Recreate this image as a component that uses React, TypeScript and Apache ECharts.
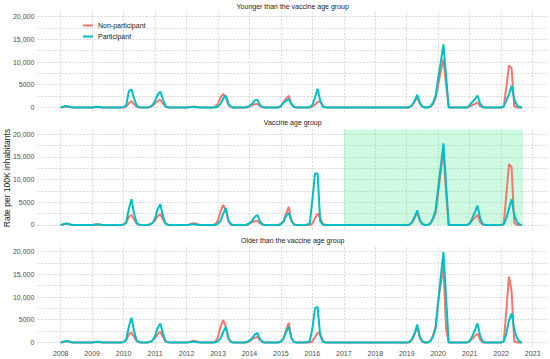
import React, { useEffect, useRef } from "react";
import * as echarts from "echarts";

// ---- Data (monthly rates per 100K, Jan 2008 .. Sep 2022) ----
const START_YEAR = 2008;
const panelTitles = [
  "Younger than the vaccine age group",
  "Vaccine age group",
  "Older than the vaccine age group",
];
const seriesNames = ["Non-participant", "Participant"];
const yearTicks = [2008, 2009, 2010, 2011, 2012, 2013, 2014, 2015, 2016, 2017, 2018, 2019, 2020, 2021, 2022, 2023];
const yTicks = [0, 5000, 10000, 15000, 20000];
const yGridTicks = [0, 2500, 5000, 7500, 10000, 12500, 15000, 17500, 20000];
const shadedRange = [2017, 2022.7];
const Z = [0, 0, 0, 0, 0, 0, 0, 0, 0, 0, 0, 0];

const youngerNonPart = [
  0, 80, 200, 150, 50, 0, 0, 0, 0, 0, 0, 0,
  0, 50, 100, 60, 0, 0, 0, 0, 0, 0, 0, 0,
  50, 200, 900, 1400, 700, 150, 0, 0, 0, 0, 100, 400,
  900, 1400, 1700, 800, 200, 0, 0, 0, 0, 0, 0, 0,
  0, 50, 150, 200, 100, 0, 0, 0, 0, 0, 0, 200,
  800, 2200, 3000, 2200, 500, 100, 0, 0, 0, 0, 0, 0,
  200, 500, 700, 830, 300, 50, 0, 0, 0, 0, 0, 0,
  300, 1200, 2000, 2570, 800, 100, 0, 0, 0, 0, 0, 0,
  200, 600, 1200, 1300, 300, 50, 0, 0, 0, 0, 0, 0,
  ...Z,
  ...Z,
  0, 0, 400, 1300, 2300, 800, 150, 0, 0, 100, 700, 2000,
  5000, 8000, 10600, 5000, 0, 0, 0, 0, 0, 0, 0, 0,
  200, 500, 800, 1100, 300, 50, 0, 0, 0, 0, 0, 0,
  0, 200, 4500, 9230, 8650, 300, 0, 0, 0,
];
const youngerPart = [
  0, 150, 300, 200, 50, 0, 0, 0, 0, 0, 0, 0,
  0, 100, 150, 80, 0, 0, 0, 0, 0, 0, 0, 0,
  100, 500, 3600, 4000, 2000, 400, 50, 0, 0, 0, 100, 500,
  1500, 2800, 3500, 1800, 300, 50, 0, 0, 0, 0, 0, 0,
  0, 50, 100, 100, 50, 0, 0, 0, 0, 0, 0, 0,
  200, 800, 2000, 2600, 800, 100, 0, 0, 0, 0, 0, 100,
  300, 800, 1500, 1700, 600, 100, 0, 0, 0, 0, 0, 0,
  300, 1000, 1500, 1840, 700, 100, 0, 0, 0, 0, 0, 100,
  500, 2200, 4100, 1500, 200, 0, 0, 0, 0, 0, 0, 0,
  ...Z,
  ...Z,
  0, 100, 500, 1500, 2800, 1000, 200, 0, 0, 200, 1000, 2500,
  6500, 10000, 13900, 7000, 0, 0, 0, 0, 0, 0, 0, 0,
  500, 1200, 1800, 2640, 800, 100, 0, 0, 0, 0, 0, 0,
  0, 200, 1500, 3000, 4770, 1800, 500, 100, 0,
];
const vaccineNonPart = [
  0, 100, 250, 200, 50, 0, 0, 0, 0, 0, 0, 0,
  0, 50, 100, 50, 0, 0, 0, 0, 0, 0, 0, 0,
  100, 500, 1800, 2200, 1200, 300, 50, 0, 0, 0, 100, 400,
  1000, 1900, 2420, 1200, 300, 50, 0, 0, 0, 0, 0, 0,
  0, 100, 300, 400, 200, 50, 0, 0, 0, 0, 0, 200,
  1000, 3000, 4400, 3300, 800, 100, 0, 0, 0, 0, 0, 0,
  300, 600, 800, 900, 400, 50, 0, 0, 0, 0, 0, 0,
  200, 800, 2500, 4000, 1000, 100, 0, 0, 0, 0, 0, 0,
  300, 1500, 2500, 1500, 200, 0, 0, 0, 0, 0, 0, 0,
  ...Z,
  ...Z,
  0, 0, 500, 1500, 2710, 900, 150, 0, 0, 300, 1200, 2500,
  7000, 12000, 16100, 7000, 0, 0, 0, 0, 0, 0, 0, 0,
  300, 1000, 1600, 2200, 600, 50, 0, 0, 0, 0, 0, 0,
  0, 200, 6700, 13400, 12700, 500, 0, 0, 0,
];
const vaccinePart = [
  0, 150, 300, 250, 50, 0, 0, 0, 0, 0, 0, 0,
  0, 100, 150, 80, 0, 0, 0, 0, 0, 0, 0, 0,
  100, 600, 3500, 5650, 2500, 400, 50, 0, 0, 0, 100, 400,
  1500, 3500, 4550, 2000, 300, 50, 0, 0, 0, 0, 0, 0,
  0, 50, 150, 150, 50, 0, 0, 0, 0, 0, 0, 0,
  300, 900, 2500, 3660, 1000, 100, 0, 0, 0, 0, 0, 100,
  400, 900, 1800, 2200, 800, 100, 0, 0, 0, 0, 0, 0,
  200, 700, 2000, 2700, 900, 100, 0, 0, 0, 0, 100, 300,
  5500, 11300, 11300, 800, 100, 0, 0, 0, 0, 0, 0, 0,
  ...Z,
  ...Z,
  0, 100, 600, 1800, 3220, 1200, 200, 0, 0, 300, 1500, 3300,
  8200, 13000, 17950, 9000, 0, 0, 0, 0, 0, 0, 0, 0,
  300, 1500, 2800, 4250, 1500, 200, 0, 0, 0, 0, 0, 0,
  0, 200, 1500, 3600, 5640, 2200, 700, 100, 0,
];
const olderNonPart = [
  0, 100, 250, 200, 50, 0, 0, 0, 0, 0, 0, 0,
  0, 50, 100, 50, 0, 0, 0, 0, 0, 0, 0, 0,
  100, 500, 1800, 2200, 1200, 300, 50, 0, 0, 0, 100, 400,
  1000, 1800, 2340, 1200, 300, 50, 0, 0, 0, 0, 0, 0,
  0, 100, 300, 400, 200, 50, 0, 0, 0, 0, 0, 200,
  1200, 3500, 4920, 3500, 800, 100, 0, 0, 0, 0, 0, 0,
  300, 700, 1000, 1200, 500, 50, 0, 0, 0, 0, 0, 0,
  200, 900, 2800, 4330, 1000, 100, 0, 0, 0, 0, 0, 0,
  200, 1200, 2100, 2000, 300, 0, 0, 0, 0, 0, 0, 0,
  ...Z,
  ...Z,
  0, 0, 600, 1800, 3450, 1000, 150, 0, 0, 300, 1500, 3500,
  9000, 13000, 16700, 3000, 0, 0, 0, 0, 0, 0, 0, 0,
  300, 800, 1400, 1990, 600, 50, 0, 0, 0, 0, 0, 0,
  0, 200, 7000, 14500, 11200, 200, 0, 0, 0,
];
const olderPart = [
  0, 150, 300, 250, 50, 0, 0, 0, 0, 0, 0, 0,
  0, 100, 150, 80, 0, 0, 0, 0, 0, 0, 0, 0,
  100, 600, 3500, 5430, 2500, 400, 50, 0, 0, 0, 100, 400,
  1500, 3200, 4190, 2000, 300, 50, 0, 0, 0, 0, 0, 0,
  0, 50, 150, 150, 50, 0, 0, 0, 0, 0, 0, 0,
  300, 900, 2300, 3450, 1000, 100, 0, 0, 0, 0, 0, 100,
  400, 900, 1700, 2120, 800, 100, 0, 0, 0, 0, 0, 0,
  200, 800, 2300, 3450, 1000, 100, 0, 0, 0, 0, 100, 300,
  3000, 7500, 7860, 1500, 200, 0, 0, 0, 0, 0, 0, 0,
  ...Z,
  ...Z,
  0, 100, 700, 2000, 3970, 1300, 200, 0, 0, 300, 1200, 3000,
  9000, 14500, 19900, 10000, 0, 0, 0, 0, 0, 0, 0, 0,
  300, 1400, 2700, 4190, 1500, 200, 0, 0, 0, 0, 0, 0,
  0, 200, 2000, 4900, 6400, 3000, 1000, 200, 0,
];

const panels = [
  [youngerNonPart, youngerPart],
  [vaccineNonPart, vaccinePart],
  [olderNonPart, olderPart],
];

const COLORS = ["#F8766D", "#00BFC4"];
const FONT = "Liberation Sans, Arial, sans-serif";
const GRID_TOPS = [12, 129.5, 247];
const GRID_H = 100;
const GRID_LEFT = 37.4;
const GRID_RIGHT = 2;

function toPoints(values: number[]) {
  return values.map((v, i) => [START_YEAR + i / 12, v]);
}

function fmtY(v: number) {
  return v >= 10000 ? v.toLocaleString("en-US") : String(v);
}

export default function App() {
  const ref = useRef<HTMLDivElement>(null);

  useEffect(() => {
    if (!ref.current) return;
    const chart = echarts.init(ref.current, undefined, { renderer: "svg" });
    const gridLine = { color: "#cfcfcf", width: 0.8, type: [2, 1.5] as any };

    const grids = GRID_TOPS.map((top) => ({
      left: GRID_LEFT,
      right: GRID_RIGHT,
      top,
      height: GRID_H,
    }));

    const xAxes = GRID_TOPS.map((_, i) => ({
      type: "value",
      gridIndex: i,
      min: 2007.26,
      max: 2023.49,
      axisLine: { show: false },
      axisTick: { show: false, customValues: yearTicks },
      splitLine: { show: true, lineStyle: gridLine },
      axisLabel: {
        show: i === 2,
        customValues: yearTicks,
        fontSize: 7,
        color: "#4d4d4d",
        fontFamily: FONT,
        margin: 3,
        hideOverlap: false,
        formatter: (v: number) => String(Math.round(v)),
      },
    }));

    const yAxes = GRID_TOPS.map((_, i) => ({
      type: "value",
      gridIndex: i,
      min: -1000,
      max: 21000,
      axisLine: { show: false },
      axisTick: { show: false, customValues: yGridTicks },
      splitLine: { show: true, lineStyle: gridLine },
      axisLabel: {
        customValues: yTicks,
        fontSize: 7,
        color: "#4d4d4d",
        fontFamily: FONT,
        margin: 3,
        formatter: (v: number) => fmtY(v),
      },
    }));

    const series: any[] = [];
    panels.forEach((pair, pi) => {
      pair.forEach((vals, si) => {
        const s: any = {
          type: "line",
          name: seriesNames[si],
          xAxisIndex: pi,
          yAxisIndex: pi,
          data: toPoints(vals),
          showSymbol: false,
          symbol: "none",
          lineStyle: { color: COLORS[si], width: 2 },
          itemStyle: { color: COLORS[si] },
          z: 3 + si,
        };
        if (pi === 1 && si === 0) {
          s.markArea = {
            silent: true,
            itemStyle: { color: "rgba(60, 235, 140, 0.25)" },
            data: [[{ xAxis: shadedRange[0], yAxis: 0 }, { xAxis: shadedRange[1], yAxis: 21000 }]],
          };
        }
        series.push(s);
      });
    });

    const centerX = GRID_LEFT + (550 - GRID_LEFT - GRID_RIGHT) / 2;
    const titleYs = [6, 122.5, 240.5];

    const textStyle = (text: string, size: number, fill: string) => ({
      text,
      align: "center",
      verticalAlign: "middle",
      fontSize: size,
      fill,
      fontFamily: FONT,
    });

    chart.setOption({
      animation: false,
      backgroundColor: "#ffffff",
      grid: grids,
      xAxis: xAxes,
      yAxis: yAxes,
      legend: {
        data: seriesNames,
        orient: "vertical",
        left: 83,
        top: 22,
        padding: 0,
        itemWidth: 10,
        itemHeight: 2,
        itemGap: 4,
        icon: "rect",
        textStyle: { fontSize: 7, color: "#1a1a1a", fontFamily: FONT },
      },
      graphic: [
        ...panelTitles.map((t, i) => ({
          type: "text",
          x: centerX,
          y: titleYs[i],
          style: textStyle(t, 7, "#1a1a1a"),
        })),
        {
          type: "text",
          x: 7,
          y: 178,
          rotation: Math.PI / 2,
          style: textStyle("Rate per 100K inhabitants", 8.5, "#1a1a1a"),
        },
      ],
      series,
    });

    return () => chart.dispose();
  }, []);

  return (
    <div
      ref={ref}
      style={{ position: "absolute", left: 0, top: 0, width: 550, height: 359 }}
    />
  );
}
